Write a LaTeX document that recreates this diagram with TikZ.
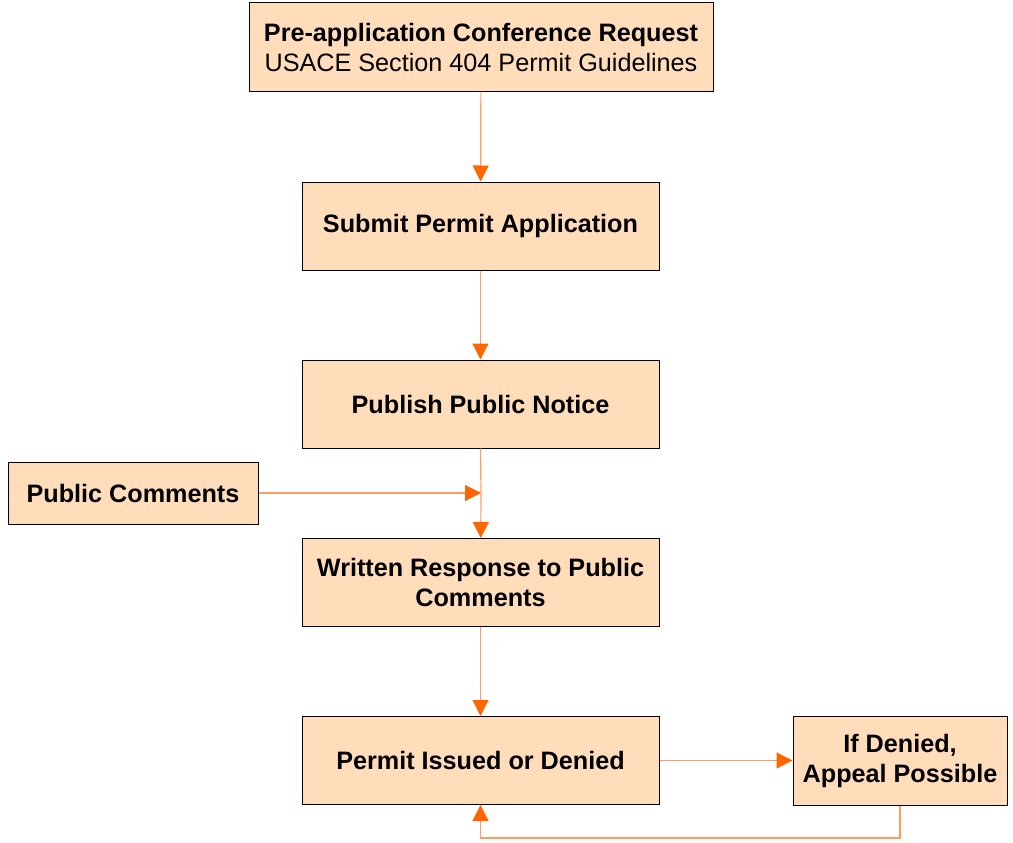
\documentclass[tikz,border=0pt]{standalone}
\usepackage{fontspec}
\setmainfont{Liberation Sans}
\usetikzlibrary{arrows.meta}
\definecolor{boxfill}{HTML}{FFDDBB}
\definecolor{lineorange}{HTML}{FF9C64}
\definecolor{tiporange}{HTML}{FF6600}
\tikzset{
	stepbox/.style={draw=black,line width=1pt,fill=boxfill,inner sep=0pt,align=center,
		font=\fontsize{25.2}{30}\selectfont\bfseries},
	flow/.style={draw=lineorange,line width=1.2pt,-{Triangle[length=16pt,width=16pt,color=tiporange]}}
}
\begin{document}
\begin{tikzpicture}[x=1pt,y=-1pt]
			\useasboundingbox (0,0) rectangle (1013,843);
			\begin{scope}[every node/.style={stepbox,minimum width=357pt,minimum height=88pt}]
			\node[minimum width=464pt,minimum height=89pt] (conf) at (481, 47.5)
				{Pre-application Conference Request\\{\mdseries USACE Section 404 Permit Guidelines}};
			
			\node 			(submit)  at (480.5, 226) 	{Submit Permit Application};
			\node 			(notice)  at (480.5, 404) 	{Publish Public Notice};
			
			\node[minimum width=250pt,minimum height=62pt]	(comments) at (133, 493) 	{Public Comments};
			
			\node       	(response) at (480.5, 582.5) 	{Written Response to Public\\Comments};
			
			\node       	(permit) at (480.5, 760.5) 	{Permit Issued or Denied};
			\node[minimum width=214pt,minimum height=89pt]	(appeal) at (900, 760.5) 	{If Denied,\\Appeal Possible};
			\end{scope}
			
			\coordinate (join) at (481, 493);
			\coordinate (loop) at (900, 838);
			
			\path [flow] (conf) -- (submit);
			\path [flow] (submit) -- (notice);
			\path [draw=lineorange,line width=1.2pt] (notice.south) -- (join);
			\path [flow] (join) -- (response);
			\path [flow] (comments) -- (join);
			
			\path [flow] (response) -- (permit);
			\path [flow] (permit) -- (appeal);
			\path [flow] (appeal.south) -- (loop) -| (permit.south);
			\end{tikzpicture}
\end{document}
